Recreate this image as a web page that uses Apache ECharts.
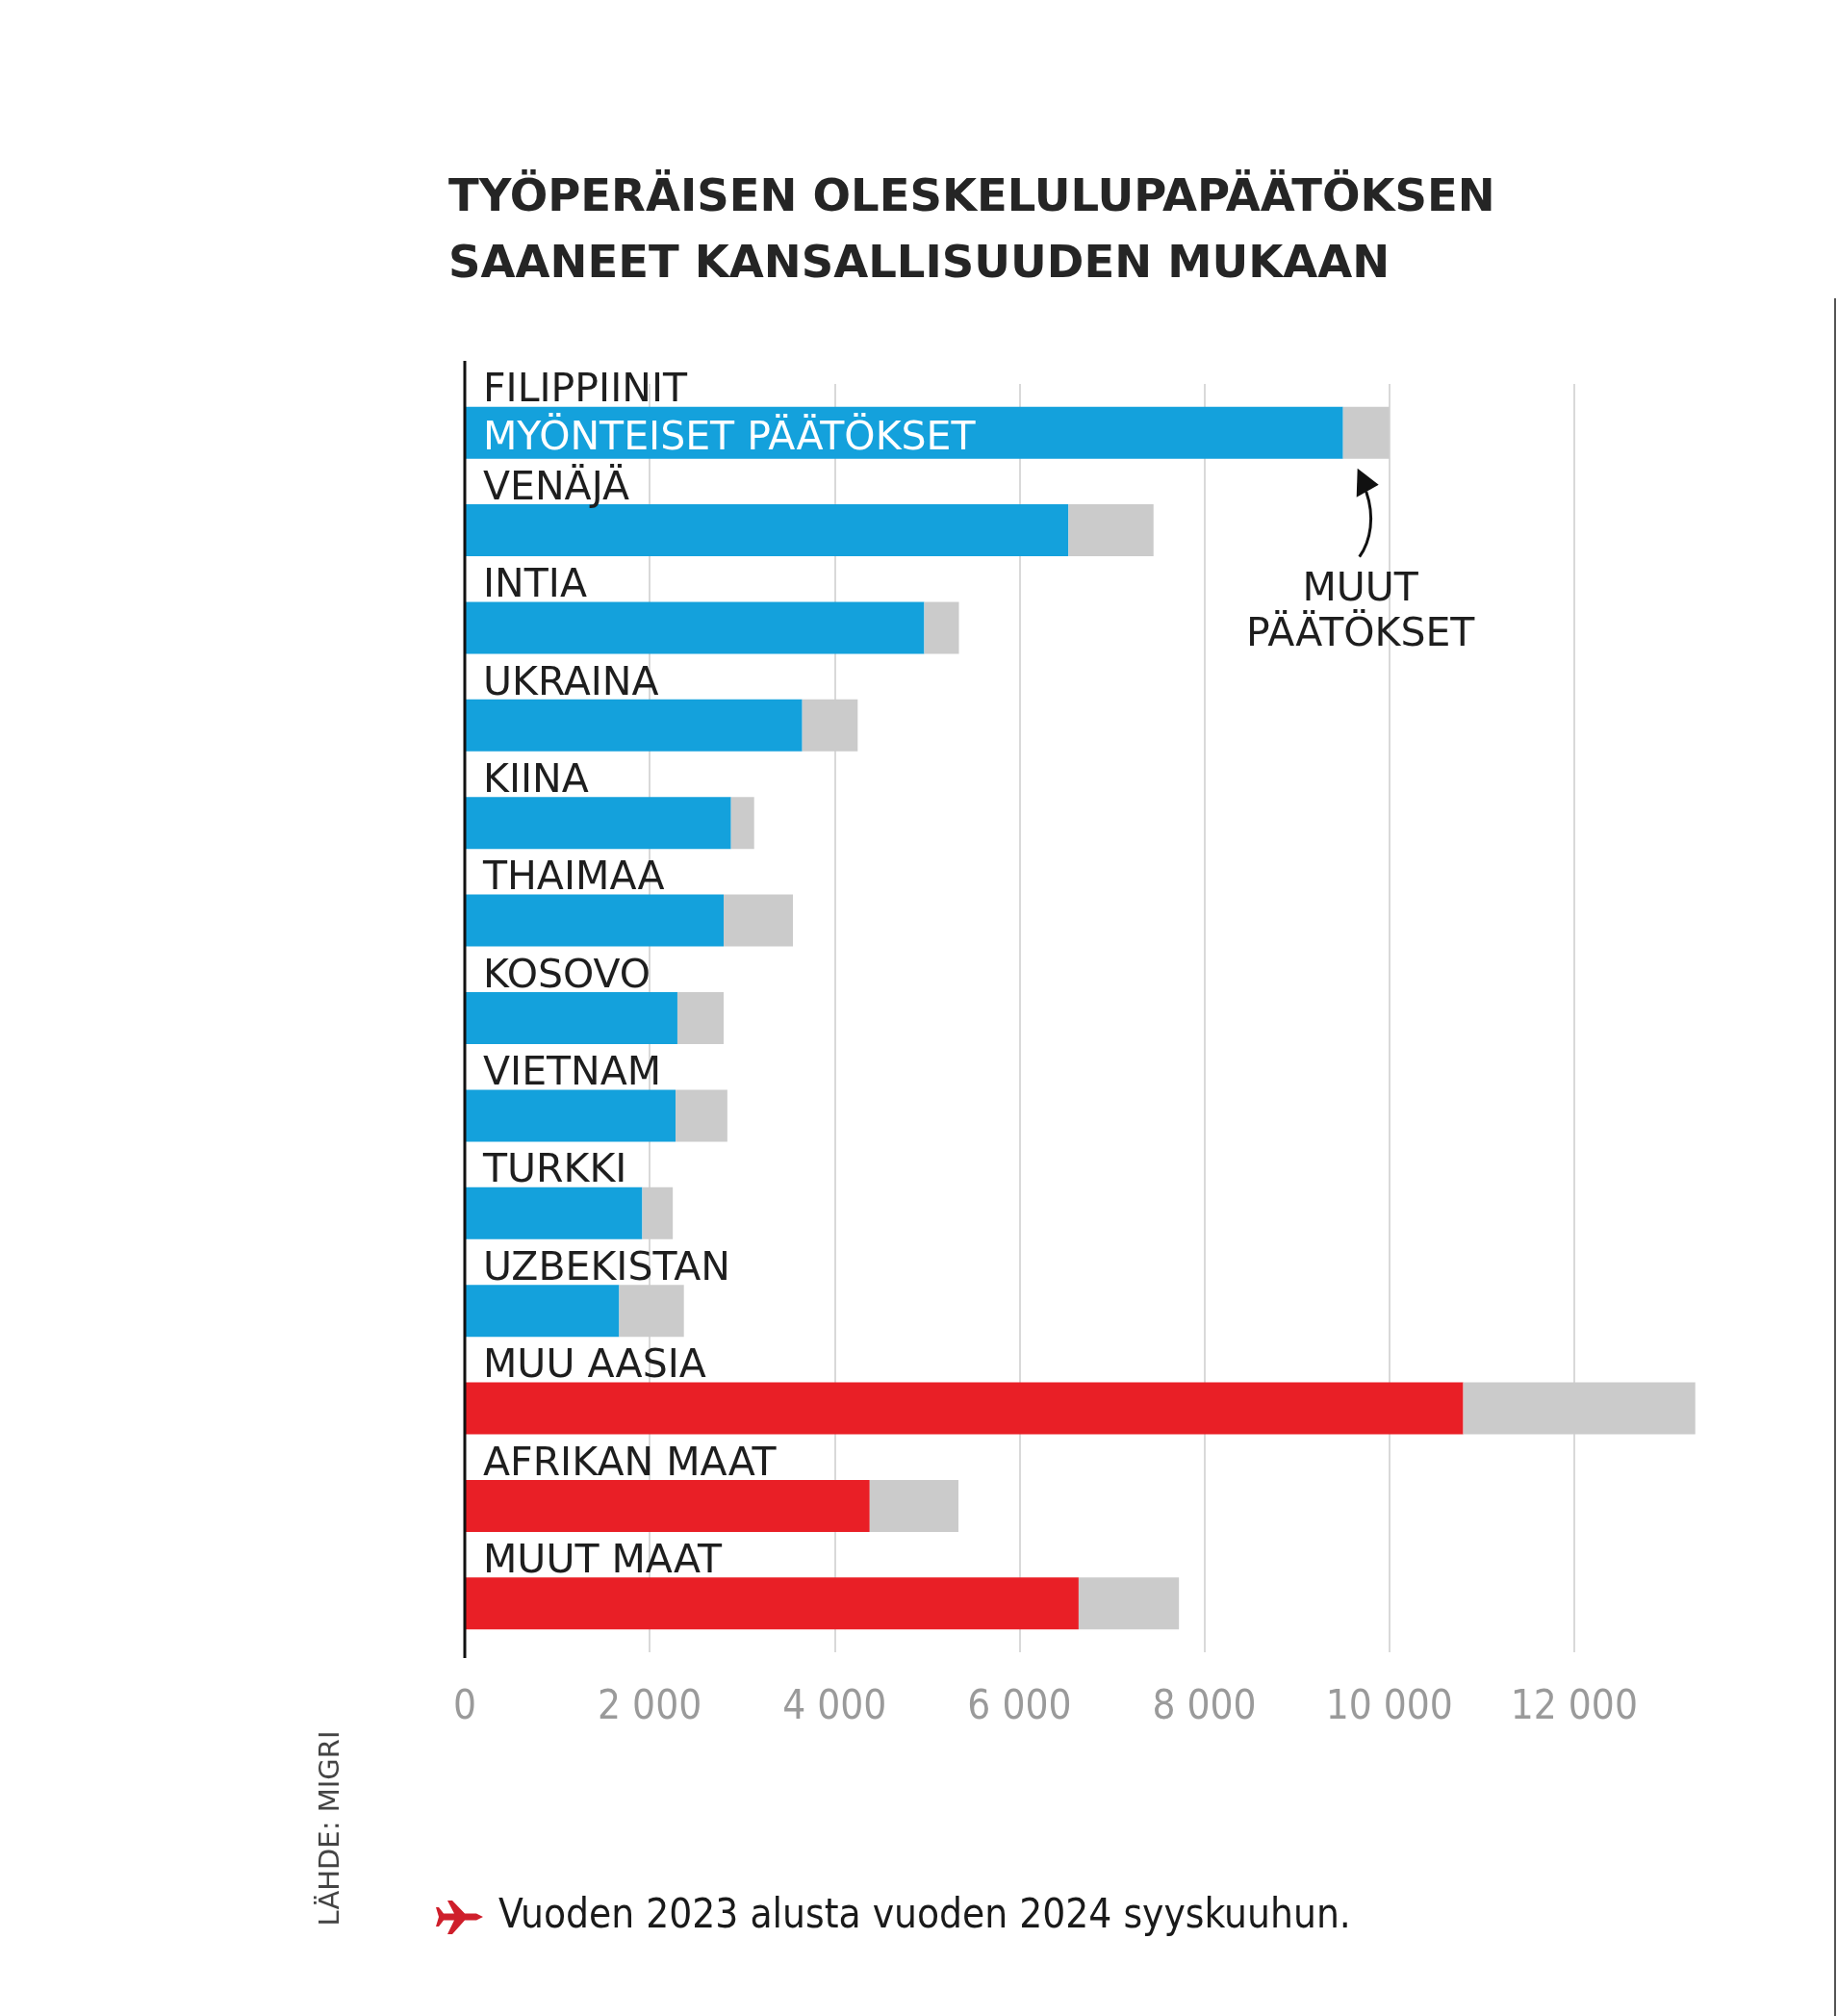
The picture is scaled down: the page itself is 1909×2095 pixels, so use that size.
<!DOCTYPE html>
<html>
  <head>
    <meta charset="UTF-8">
    <title>Työperäisen oleskelulupapäätöksen saaneet</title>
    <script src="https://cdn.jsdelivr.net/npm/echarts@6/dist/echarts.min.js"></script>
    <style>
      html, body { margin: 0; padding: 0; background: #fff; }
      #chart { width: 1909px; height: 2095px; }
    </style>
  </head>
  <body>
    <div id="chart"></div>
    <script type="text/javascript">
     // data
     var countries = ['FILIPPIINIT', 'VENÄJÄ', 'INTIA', 'UKRAINA', 'KIINA', 'THAIMAA', 'KOSOVO',
                      'VIETNAM', 'TURKKI', 'UZBEKISTAN', 'MUU AASIA', 'AFRIKAN MAAT', 'MUUT MAAT'];
     var myonteiset = [9500, 6530, 4970, 3650, 2880, 2800, 2300, 2280, 1920, 1670, 10800, 4380, 6640];
     var muut = [500, 920, 375, 600, 250, 750, 500, 560, 330, 700, 2510, 960, 1085];
     var regions = ['MUU AASIA', 'AFRIKAN MAAT', 'MUUT MAAT'];
     var xTicks = { min: 0, max: 14000, interval: 2000 };

     var titleText = 'TYÖPERÄISEN OLESKELULUPAPÄÄTÖKSEN\nSAANEET KANSALLISUUDEN MUKAAN';
     var insideText = 'MYÖNTEISET PÄÄTÖKSET';
     var otherText = 'MUUT\nPÄÄTÖKSET';
     var noteText = 'Vuoden 2023 alusta vuoden 2024 syyskuuhun.';
     var sourceText = 'LÄHDE: MIGRI';

     var narrow = "'DejaVu Sans Condensed', 'DejaVu Sans', sans-serif";
     var wide = "'DejaVu Sans', sans-serif";
     var BLUE = '#14a1dc', RED = '#e91f26', GREY = '#cbcbcb';
     var GRID = { left: 483, right: 81, top: 399, bottom: 378 };

     function spaced(v) {
       return String(v).replace(/\B(?=(\d{3})+(?!\d))/g, ' ');
     }

     var chart = echarts.init(document.getElementById('chart'));

     chart.setOption({
       backgroundColor: '#fff',
       animation: false,
       title: {
         text: titleText,
         left: 466,
         top: 172,
         padding: 0,
         textStyle: {
           fontFamily: wide,
           fontSize: 46.5,
           fontWeight: 'bold',
           color: '#252525',
           lineHeight: 69
         }
       },
       grid: GRID,
       xAxis: {
         type: 'value',
         min: xTicks.min,
         max: xTicks.max,
         interval: xTicks.interval,
         axisLine: { show: false },
         axisTick: { show: false },
         splitLine: {
           show: true,
           showMinLine: false,
           showMaxLine: false,
           lineStyle: { color: '#d9d9d9', width: 2 }
         },
         axisLabel: {
           showMaxLabel: false,
           margin: 37,
           fontFamily: narrow,
           fontSize: 42,
           color: '#9a9a9a',
           formatter: spaced
         }
       },
       yAxis: {
         type: 'category',
         inverse: true,
         data: countries,
         axisLine: { show: false },
         axisTick: { show: false },
         axisLabel: { show: false },
         splitLine: { show: false }
       },
       series: [
         {
           name: 'Myönteiset päätökset',
           type: 'bar',
           stack: 'all',
           barWidth: 54,
           data: myonteiset,
           itemStyle: {
             color: function (p) {
               return regions.indexOf(p.name) >= 0 ? RED : BLUE;
             }
           },
           label: {
             show: true,
             position: [19, -41],
             align: 'left',
             verticalAlign: 'top',
             formatter: function (p) {
               if (p.dataIndex === 0) {
                 return '{n|' + p.name + '}\n{w|' + insideText + '}';
               }
               return '{n|' + p.name + '}';
             },
             rich: {
               n: { fontFamily: wide, fontSize: 41, color: '#1e1e1e', lineHeight: 50 },
               w: { fontFamily: wide, fontSize: 41, color: '#ffffff', lineHeight: 50 }
             }
           }
         },
         {
           name: 'Muut päätökset',
           type: 'bar',
           stack: 'all',
           barWidth: 54,
           data: muut,
           itemStyle: { color: GREY }
         }
       ]
     });

     // annotation pointing at the grey part of the first bar
     var greyMid = chart.convertToPixel({ xAxisIndex: 0 }, myonteiset[0] + muut[0] / 2);
     var rowY = chart.convertToPixel({ yAxisIndex: 0 }, 0);
     var barBottom = rowY + 27;
     var tx = greyMid - 9, ty = barBottom + 10;
     var axisX = chart.convertToPixel({ xAxisIndex: 0 }, 0);

     chart.setOption({
       graphic: [
         {
           type: 'line',
           shape: { x1: axisX, y1: GRID.top - 24, x2: axisX, y2: 2095 - GRID.bottom + 6 },
           style: { stroke: '#111', lineWidth: 3 },
           z: 10
         },
         {
           type: 'polygon',
           shape: { points: [[tx, ty], [tx - 1, ty + 30], [tx + 22, ty + 17]] },
           style: { fill: '#111' }
         },
         {
           type: 'bezierCurve',
           shape: {
             x1: tx + 9, y1: ty + 24,
             cpx1: tx + 18, cpy1: ty + 50,
             cpx2: tx + 14, cpy2: ty + 75,
             x2: tx + 2, y2: ty + 92
           },
           style: { stroke: '#111', lineWidth: 3, fill: null }
         },
         {
           type: 'text',
           x: greyMid - 6,
           y: barBottom + 113,
           style: {
             text: otherText,
             fontFamily: wide,
             fontSize: 41,
             fill: '#1e1e1e',
             align: 'center',
             verticalAlign: 'top',
             lineHeight: 47
           }
         },
         {
           type: 'polygon',
           x: 455,
           y: 1992,
           shape: {
             points: [[47, 0], [40, -3.5], [28, -3.5], [15, -17], [10, -17], [17, -3.5], [6, -3.5],
                      [1, -10], [-2, -10], [1, 0], [-2, 10], [1, 10], [6, 3.5], [17, 3.5],
                      [10, 18], [15, 18], [28, 3.5], [40, 3.5]]
           },
           style: { fill: '#cf1f2b' }
         },
         {
           type: 'text',
           x: 518,
           y: 1992,
           style: {
             text: noteText,
             fontFamily: narrow,
             fontSize: 42,
             fill: '#1a1a1a',
             align: 'left',
             verticalAlign: 'middle'
           }
         },
         {
           type: 'text',
           x: 344,
           y: 1900,
           rotation: Math.PI / 2,
           style: {
             text: sourceText,
             fontFamily: wide,
             fontSize: 29,
             fill: '#444',
             align: 'center',
             verticalAlign: 'middle'
           }
         },
         {
           type: 'line',
           shape: { x1: 1907, y1: 310, x2: 1907, y2: 2095 },
           style: { stroke: '#555', lineWidth: 2 }
         }
       ]
     });
    </script>
  </body>
</html>
